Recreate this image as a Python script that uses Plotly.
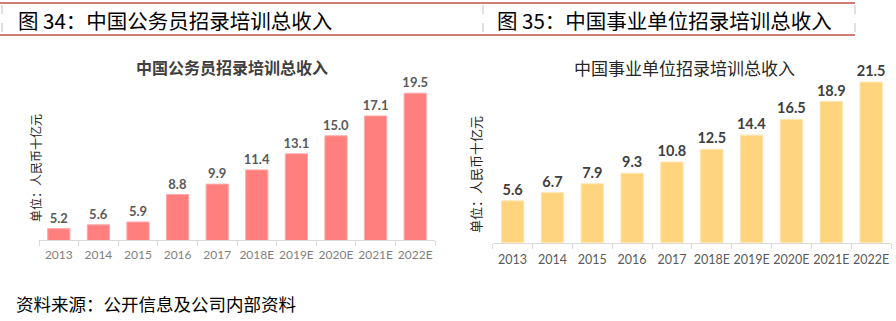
import plotly.graph_objects as go

years = ["2013", "2014", "2015", "2016", "2017", "2018E", "2019E", "2020E", "2021E", "2022E"]
civil_values = [5.2, 5.6, 5.9, 8.8, 9.9, 11.4, 13.1, 15.0, 17.1, 19.5]
inst_values = [5.6, 6.7, 7.9, 9.3, 10.8, 12.5, 14.4, 16.5, 18.9, 21.5]
header_left = "图 34：中国公务员招录培训总收入"
header_right = "图 35：中国事业单位招录培训总收入"
title_left = "中国公务员招录培训总收入"
title_right = "中国事业单位招录培训总收入"
ytitle = "单位：人民币十亿元"
source = "资料来源：公开信息及公司内部资料"

W, H = 896, 321
def px(x):
    return x / W
def py(y):
    return 1 - y / H

CJK = "Noto Sans CJK SC"
fig = go.Figure()

fig.add_trace(go.Bar(
    x=years, y=civil_values, xaxis="x", yaxis="y",
    width=0.56,
    marker=dict(color="#FF7F7F", line=dict(color="#FFA8A8", width=1)),
    text=[f"{v:.1f}" for v in civil_values], textposition="outside", constraintext="none",
    textfont=dict(family="Lato", size=13, color="#595959", weight="bold"),
    cliponaxis=False, showlegend=False, hoverinfo="skip",
))
fig.add_trace(go.Bar(
    x=years, y=inst_values, xaxis="x2", yaxis="y2",
    width=0.56,
    marker=dict(color="#FFD47F", line=dict(color="#FFE6B0", width=1)),
    text=[f"{v:.1f}" for v in inst_values], textposition="outside", constraintext="none",
    textfont=dict(family="Lato", size=14.5, color="#404040", weight="bold"),
    cliponaxis=False, showlegend=False, hoverinfo="skip",
))

axis_common = dict(type="category", showline=True, linecolor="#D9D9D9", linewidth=1,
                   ticks="outside", tickson="boundaries", ticklen=5, tickcolor="#D9D9D9",
                   tickangle=0,
                   showgrid=False, zeroline=False, fixedrange=True)
fig.update_layout(
    width=W, height=H, margin=dict(l=0, r=0, t=0, b=0),
    paper_bgcolor="white", plot_bgcolor="white",
    bargap=0.44,
    xaxis=dict(domain=[px(39), px(435)], anchor="y",
               tickfont=dict(family="Lato", size=12, color="#7F7F7F"),
               ticklabelstandoff=4, **axis_common),
    yaxis=dict(domain=[py(240), py(79)], range=[4, 21], anchor="x",
               visible=False, fixedrange=True),
    xaxis2=dict(domain=[px(492.7), px(891)], anchor="y2",
                tickfont=dict(family="Lato", size=12.5, color="#595959"),
                ticklabelstandoff=5, **axis_common),
    yaxis2=dict(domain=[py(242.7), py(70)], range=[0, (242.7 - 70) / 7.47], anchor="x2",
                visible=False, fixedrange=True),
)

shapes = []
for yy in (3, 35):
    shapes.append(dict(type="line", xref="paper", yref="paper", x0=0, x1=px(855),
                       y0=py(yy), y1=py(yy), line=dict(color="#C0504D", width=1.5)))
for xx in (2, 483, 855):
    shapes.append(dict(type="line", xref="paper", yref="paper", x0=px(xx), x1=px(xx),
                       y0=py(5), y1=py(33), line=dict(color="#BFBFBF", width=1, dash="dash")))
fig.update_layout(shapes=shapes)

ann = [
    dict(text=header_left, x=px(16), y=py(20), xanchor="left", yanchor="middle",
         font=dict(family=CJK, size=20.5, color="#000000")),
    dict(text=header_right, x=px(495), y=py(20), xanchor="left", yanchor="middle",
         font=dict(family=CJK, size=20.5, color="#000000")),
    dict(text="<b>" + title_left + "</b>", x=px(232), y=py(67), xanchor="center", yanchor="middle",
         font=dict(family=CJK, size=16, color="#404040")),
    dict(text=title_right, x=px(684), y=py(67), xanchor="center", yanchor="middle",
         font=dict(family=CJK, size=17, color="#262626")),
    dict(text=ytitle, x=px(36), y=py(168), xanchor="center", yanchor="middle", textangle=-90,
         font=dict(family=CJK, size=12, color="#262626")),
    dict(text=ytitle, x=px(476), y=py(175), xanchor="center", yanchor="middle", textangle=-90,
         font=dict(family=CJK, size=13, color="#262626")),
    dict(text=source, x=px(14), y=py(303), xanchor="left", yanchor="middle",
         font=dict(family=CJK, size=17.5, color="#000000")),
]
for a in ann:
    a.update(xref="paper", yref="paper", showarrow=False)
fig.update_layout(annotations=ann)

fig.write_html("out.html")
